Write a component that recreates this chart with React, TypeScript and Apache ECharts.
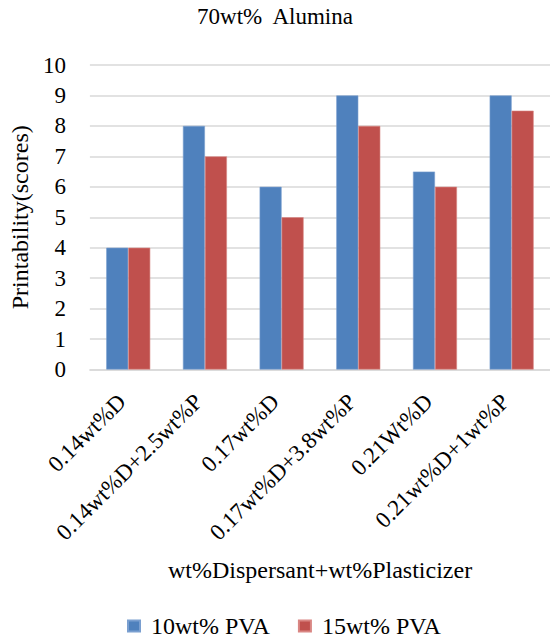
import React, { useEffect, useRef } from "react";
import * as echarts from "echarts";

const categories = [
  "0.14wt%D",
  "0.14wt%D+2.5wt%P",
  "0.17wt%D",
  "0.17wt%D+3.8wt%P",
  "0.21Wt%D",
  "0.21wt%D+1wt%P",
];
const pva10 = [4, 8, 6, 9, 6.5, 9];
const pva15 = [4, 7, 5, 8, 6, 8.5];
const seriesNames = ["10wt% PVA", "15wt% PVA"];
const titleText = "70wt%  Alumina";
const xAxisName = "wt%Dispersant+wt%Plasticizer";
const yAxisName = "Printability(scores)";

const FONT = "'Liberation Serif', 'Times New Roman', serif";

export default function App() {
  const ref = useRef<HTMLDivElement>(null);
  useEffect(() => {
    if (!ref.current) return;
    const chart = echarts.init(ref.current, null, { renderer: "svg" });
    chart.setOption({
      animation: false,
      backgroundColor: "#ffffff",
      textStyle: { fontFamily: FONT, color: "#000" },
      title: {
        text: titleText,
        left: "center",
        top: 5,
        padding: 0,
        textStyle: { fontFamily: FONT, fontSize: 23, fontWeight: "normal", color: "#000" },
      },
      legend: {
        left: 127,
        top: 614,
        padding: 0,
        icon: "rect",
        itemWidth: 12,
        itemHeight: 11,
        itemGap: 28,
        textStyle: { fontFamily: FONT, fontSize: 24, lineHeight: 24, color: "#000", padding: [0, 0, 0, 6] },
        data: seriesNames,
      },
      grid: { left: 89, top: 65, width: 462, height: 304.5 },
      xAxis: {
        type: "category",
        data: categories,
        axisLine: { lineStyle: { color: "#d9d9d9", width: 1.5 } },
        axisTick: { show: false },
        axisLabel: {
          rotate: 45,
          interval: 0,
          margin: 22,
          padding: [0, 9, 0, 0],
          fontFamily: FONT,
          fontSize: 23,
          color: "#000",
        },
      },
      yAxis: {
        type: "value",
        min: 0,
        max: 10,
        interval: 1,
        name: yAxisName,
        nameLocation: "middle",
        nameRotate: 90,
        nameGap: 54,
        nameTextStyle: { fontFamily: FONT, fontSize: 24, color: "#000" },
        axisLine: { show: false },
        axisTick: { show: false },
        axisLabel: { margin: 24, fontFamily: FONT, fontSize: 23, color: "#000" },
        splitLine: { lineStyle: { color: "#d9d9d9", width: 1.5 } },
      },
      graphic: [
        {
          type: "text",
          left: 168,
          top: 558,
          style: { text: xAxisName, fontFamily: FONT, fontSize: 24, fill: "#000" },
        },
      ],
      series: [
        {
          name: seriesNames[0],
          type: "bar",
          data: pva10,
          barWidth: 22,
          barGap: "0%",
          itemStyle: { color: "#4f81bd", borderColor: "#7a9fd0", borderWidth: 0.6 },
        },
        {
          name: seriesNames[1],
          type: "bar",
          data: pva15,
          barWidth: 22,
          barGap: "0%",
          itemStyle: { color: "#c0504d", borderColor: "#d98683", borderWidth: 0.6 },
        },
      ],
    });
    return () => chart.dispose();
  }, []);
  return (
    <div
      ref={ref}
      style={{ position: "fixed", left: 0, top: 0, width: 550, height: 639 }}
    />
  );
}
